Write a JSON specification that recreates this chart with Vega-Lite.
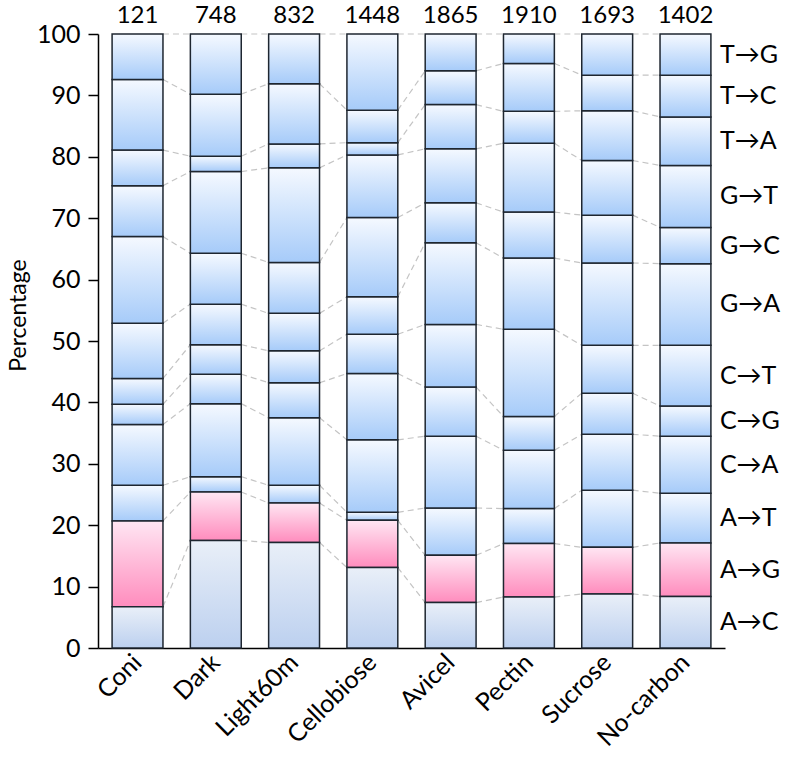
{
  "$schema": "https://vega.github.io/schema/vega-lite/v6.json",
  "width": 627,
  "height": 614,
  "autosize": {"type": "none"},
  "padding": {"left": 98, "top": 34, "right": 68, "bottom": 110},
  "background": "white",
  "config": {
    "font": "Lato",
    "view": {"stroke": null},
    "axis": {"labelColor": "black", "titleColor": "black", "domainColor": "black", "tickColor": "black", "domainWidth": 1.5, "tickWidth": 1.5, "grid": false}
  },
  "datasets": {
    "seg": [
      {"sample": "Coni", "mut": "A→C", "pct": 6.7}, {"sample": "Coni", "mut": "A→G", "pct": 14.0}, {"sample": "Coni", "mut": "A→T", "pct": 5.8}, {"sample": "Coni", "mut": "C→A", "pct": 9.9}, {"sample": "Coni", "mut": "C→G", "pct": 3.3}, {"sample": "Coni", "mut": "C→T", "pct": 4.2}, {"sample": "Coni", "mut": "G→A", "pct": 9.0}, {"sample": "Coni", "mut": "G→C", "pct": 14.1}, {"sample": "Coni", "mut": "G→T", "pct": 8.3}, {"sample": "Coni", "mut": "T→A", "pct": 5.8}, {"sample": "Coni", "mut": "T→C", "pct": 11.5}, {"sample": "Coni", "mut": "T→G", "pct": 7.4},
      {"sample": "Dark", "mut": "A→C", "pct": 17.5}, {"sample": "Dark", "mut": "A→G", "pct": 7.9}, {"sample": "Dark", "mut": "A→T", "pct": 2.5}, {"sample": "Dark", "mut": "C→A", "pct": 11.9}, {"sample": "Dark", "mut": "C→G", "pct": 4.8}, {"sample": "Dark", "mut": "C→T", "pct": 4.8}, {"sample": "Dark", "mut": "G→A", "pct": 6.6}, {"sample": "Dark", "mut": "G→C", "pct": 8.3}, {"sample": "Dark", "mut": "G→T", "pct": 13.3}, {"sample": "Dark", "mut": "T→A", "pct": 2.5}, {"sample": "Dark", "mut": "T→C", "pct": 10.1}, {"sample": "Dark", "mut": "T→G", "pct": 9.8},
      {"sample": "Light60m", "mut": "A→C", "pct": 17.2}, {"sample": "Light60m", "mut": "A→G", "pct": 6.4}, {"sample": "Light60m", "mut": "A→T", "pct": 2.9}, {"sample": "Light60m", "mut": "C→A", "pct": 11.0}, {"sample": "Light60m", "mut": "C→G", "pct": 5.7}, {"sample": "Light60m", "mut": "C→T", "pct": 5.2}, {"sample": "Light60m", "mut": "G→A", "pct": 6.1}, {"sample": "Light60m", "mut": "G→C", "pct": 8.3}, {"sample": "Light60m", "mut": "G→T", "pct": 15.4}, {"sample": "Light60m", "mut": "T→A", "pct": 3.9}, {"sample": "Light60m", "mut": "T→C", "pct": 9.8}, {"sample": "Light60m", "mut": "T→G", "pct": 8.1},
      {"sample": "Cellobiose", "mut": "A→C", "pct": 13.1}, {"sample": "Cellobiose", "mut": "A→G", "pct": 7.7}, {"sample": "Cellobiose", "mut": "A→T", "pct": 1.3}, {"sample": "Cellobiose", "mut": "C→A", "pct": 11.8}, {"sample": "Cellobiose", "mut": "C→G", "pct": 10.8}, {"sample": "Cellobiose", "mut": "C→T", "pct": 6.4}, {"sample": "Cellobiose", "mut": "G→A", "pct": 6.1}, {"sample": "Cellobiose", "mut": "G→C", "pct": 12.9}, {"sample": "Cellobiose", "mut": "G→T", "pct": 10.2}, {"sample": "Cellobiose", "mut": "T→A", "pct": 2.0}, {"sample": "Cellobiose", "mut": "T→C", "pct": 5.3}, {"sample": "Cellobiose", "mut": "T→G", "pct": 12.4},
      {"sample": "Avicel", "mut": "A→C", "pct": 7.4}, {"sample": "Avicel", "mut": "A→G", "pct": 7.7}, {"sample": "Avicel", "mut": "A→T", "pct": 7.7}, {"sample": "Avicel", "mut": "C→A", "pct": 11.7}, {"sample": "Avicel", "mut": "C→G", "pct": 8.0}, {"sample": "Avicel", "mut": "C→T", "pct": 10.2}, {"sample": "Avicel", "mut": "G→A", "pct": 13.3}, {"sample": "Avicel", "mut": "G→C", "pct": 6.5}, {"sample": "Avicel", "mut": "G→T", "pct": 8.8}, {"sample": "Avicel", "mut": "T→A", "pct": 7.2}, {"sample": "Avicel", "mut": "T→C", "pct": 5.5}, {"sample": "Avicel", "mut": "T→G", "pct": 6.0},
      {"sample": "Pectin", "mut": "A→C", "pct": 8.3}, {"sample": "Pectin", "mut": "A→G", "pct": 8.7}, {"sample": "Pectin", "mut": "A→T", "pct": 5.7}, {"sample": "Pectin", "mut": "C→A", "pct": 9.5}, {"sample": "Pectin", "mut": "C→G", "pct": 5.5}, {"sample": "Pectin", "mut": "C→T", "pct": 14.2}, {"sample": "Pectin", "mut": "G→A", "pct": 11.6}, {"sample": "Pectin", "mut": "G→C", "pct": 7.5}, {"sample": "Pectin", "mut": "G→T", "pct": 11.2}, {"sample": "Pectin", "mut": "T→A", "pct": 5.2}, {"sample": "Pectin", "mut": "T→C", "pct": 7.8}, {"sample": "Pectin", "mut": "T→G", "pct": 4.8},
      {"sample": "Sucrose", "mut": "A→C", "pct": 8.8}, {"sample": "Sucrose", "mut": "A→G", "pct": 7.6}, {"sample": "Sucrose", "mut": "A→T", "pct": 9.3}, {"sample": "Sucrose", "mut": "C→A", "pct": 9.1}, {"sample": "Sucrose", "mut": "C→G", "pct": 6.7}, {"sample": "Sucrose", "mut": "C→T", "pct": 7.8}, {"sample": "Sucrose", "mut": "G→A", "pct": 13.4}, {"sample": "Sucrose", "mut": "G→C", "pct": 7.8}, {"sample": "Sucrose", "mut": "G→T", "pct": 8.9}, {"sample": "Sucrose", "mut": "T→A", "pct": 8.1}, {"sample": "Sucrose", "mut": "T→C", "pct": 5.8}, {"sample": "Sucrose", "mut": "T→G", "pct": 6.7},
      {"sample": "No-carbon", "mut": "A→C", "pct": 8.4}, {"sample": "No-carbon", "mut": "A→G", "pct": 8.7}, {"sample": "No-carbon", "mut": "A→T", "pct": 8.1}, {"sample": "No-carbon", "mut": "C→A", "pct": 9.3}, {"sample": "No-carbon", "mut": "C→G", "pct": 4.9}, {"sample": "No-carbon", "mut": "C→T", "pct": 9.9}, {"sample": "No-carbon", "mut": "G→A", "pct": 13.3}, {"sample": "No-carbon", "mut": "G→C", "pct": 5.9}, {"sample": "No-carbon", "mut": "G→T", "pct": 10.1}, {"sample": "No-carbon", "mut": "T→A", "pct": 7.9}, {"sample": "No-carbon", "mut": "T→C", "pct": 6.8}, {"sample": "No-carbon", "mut": "T→G", "pct": 6.7}
    ],
    "counts": [
      {"sample": "Coni", "n": 121}, {"sample": "Dark", "n": 748}, {"sample": "Light60m", "n": 832}, {"sample": "Cellobiose", "n": 1448},
      {"sample": "Avicel", "n": 1865}, {"sample": "Pectin", "n": 1910}, {"sample": "Sucrose", "n": 1693}, {"sample": "No-carbon", "n": 1402}
    ]
  },
  "data": {"name": "seg"},
  "transform": [
    {"stack": "pct", "groupby": ["sample"], "sort": [{"field": "mut", "order": "ascending"}], "as": ["y0", "y1"]}
  ],
  "layer": [
    {
      "transform": [
        {"window": [{"op": "lead", "field": "sample", "as": "nextSample"}, {"op": "lead", "field": "y1", "as": "nextY1"}], "groupby": ["mut"]},
        {"filter": "isValid(datum.nextSample)"}
      ],
      "mark": {"type": "rule", "color": "#c4c4c4", "strokeWidth": 1.2, "strokeDash": [6, 4]},
      "encoding": {
        "x": {"field": "sample", "type": "nominal", "bandPosition": 1},
        "x2": {"field": "nextSample", "bandPosition": 0},
        "y": {"field": "y1", "type": "quantitative"},
        "y2": {"field": "nextY1"}
      }
    },
    {
      "transform": [{"filter": "datum.mut !== 'A→C' && datum.mut !== 'A→G'"}],
      "mark": {"type": "bar", "stroke": "#1e2630", "strokeWidth": 1.5,
        "fill": {"gradient": "linear", "x1": 0, "y1": 0, "x2": 0, "y2": 1, "stops": [{"offset": 0, "color": "#f5f9ff"}, {"offset": 1, "color": "#a6cbf9"}]}},
      "encoding": {
        "x": {"field": "sample", "type": "nominal", "sort": ["Coni", "Dark", "Light60m", "Cellobiose", "Avicel", "Pectin", "Sucrose", "No-carbon"],
          "scale": {"domain": ["Coni", "Dark", "Light60m", "Cellobiose", "Avicel", "Pectin", "Sucrose", "No-carbon"], "paddingInner": 0.35, "paddingOuter": 0.18},
          "axis": {"title": null, "labelAngle": -45, "ticks": false, "labelFontSize": 25, "labelPadding": 10}},
        "y": {"field": "y0", "type": "quantitative", "scale": {"domain": [0, 100], "nice": false},
          "axis": {"title": "Percentage", "values": [0, 10, 20, 30, 40, 50, 60, 70, 80, 90, 100], "tickSize": 10, "labelPadding": 8, "labelFontSize": 25, "titleFontSize": 23, "titleFontWeight": "normal", "titlePadding": 6, "titleY": 281}},
        "y2": {"field": "y1"}
      }
    },
    {
      "transform": [{"filter": "datum.mut === 'A→G'"}],
      "mark": {"type": "bar", "stroke": "#1e2630", "strokeWidth": 1.5,
        "fill": {"gradient": "linear", "x1": 0, "y1": 0, "x2": 0, "y2": 1, "stops": [{"offset": 0, "color": "#ffe6f3"}, {"offset": 1, "color": "#ff8cbd"}]}},
      "encoding": {
        "x": {"field": "sample", "type": "nominal"},
        "y": {"field": "y0", "type": "quantitative"},
        "y2": {"field": "y1"}
      }
    },
    {
      "transform": [{"filter": "datum.mut === 'A→C'"}],
      "mark": {"type": "bar", "stroke": "#1e2630", "strokeWidth": 1.5,
        "fill": {"gradient": "linear", "x1": 0, "y1": 0, "x2": 0, "y2": 1, "stops": [{"offset": 0, "color": "#e9eff8"}, {"offset": 1, "color": "#bcd0ef"}]}},
      "encoding": {
        "x": {"field": "sample", "type": "nominal"},
        "y": {"field": "y0", "type": "quantitative"},
        "y2": {"field": "y1"}
      }
    },
    {
      "transform": [{"filter": "datum.sample === 'No-carbon'"}, {"calculate": "(datum.y0 + datum.y1) / 2", "as": "mid"}],
      "mark": {"type": "text", "align": "left", "baseline": "middle", "dx": 9, "fontSize": 25, "color": "black"},
      "encoding": {
        "x": {"field": "sample", "type": "nominal", "bandPosition": 1},
        "y": {"field": "mid", "type": "quantitative"},
        "text": {"field": "mut"}
      }
    },
    {
      "data": {"name": "counts"},
      "mark": {"type": "text", "baseline": "alphabetic", "dy": -11, "fontSize": 24, "color": "black"},
      "encoding": {
        "x": {"field": "sample", "type": "nominal"},
        "y": {"datum": 100},
        "text": {"field": "n"}
      }
    }
  ]
}
